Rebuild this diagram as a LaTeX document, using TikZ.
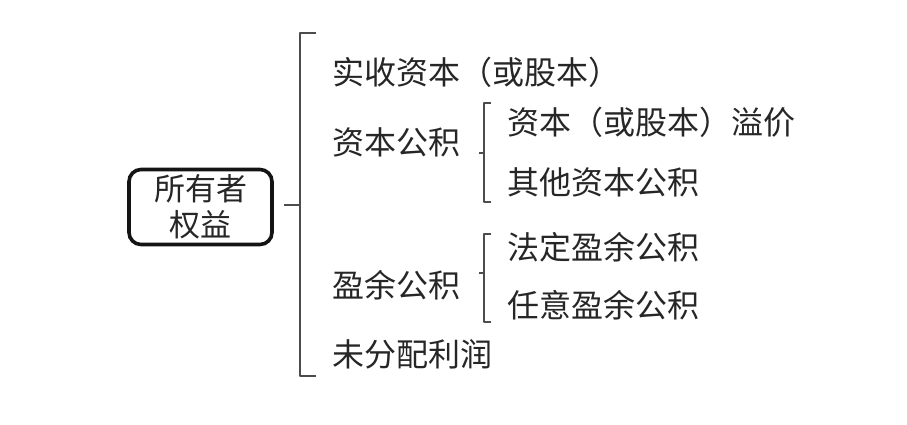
\documentclass[tikz,border=0pt]{standalone}
\usepackage{fontspec}
\newfontfamily\cjk{Noto Sans CJK SC}
\begin{document}
\begin{tikzpicture}[x=1pt,y=-1pt,
  lbl/.style={anchor=west,inner sep=0pt,font=\cjk\fontsize{32}{36}\selectfont,text=black!85},
  rootbox/.style={draw=black!92,line width=3.6pt,rounded corners=12pt,minimum width=143pt,minimum height=75pt,align=center,inner sep=0pt,font=\cjk\fontsize{31}{36}\selectfont,text=black!85},
  brace/.style={draw=black!70,line width=1.3pt,line join=round}]
\useasboundingbox (0,0) rectangle (907,424);
\node[rootbox] (root) at (200.5,207) {所有者\\权益};
\node[lbl] (a) at (332,72) {实收资本（或股本）};
\node[lbl] (b) at (332,142) {资本公积};
\node[lbl] (c) at (332,285) {盈余公积};
\node[lbl] (d) at (332,354) {未分配利润};
\node[lbl] (b1) at (507,122) {资本（或股本）溢价};
\node[lbl] (b2) at (507,182) {其他资本公积};
\node[lbl] (c1) at (507,247) {法定盈余公积};
\node[lbl] (c2) at (507,305) {任意盈余公积};
% big brace
\coordinate (BT) at (300,33);
\coordinate (BB) at (300,376);
\coordinate (BM) at (300,205);
\draw[brace] (316,33) -- (BT) -- (BB) -- (316,376);
\draw[brace] (root.east |- BM) ++(10,0) -- (BM);
% small brace 1
\draw[brace] (491,103) -- (484,103) -- (484,202) -- (491,202);
\draw[brace] (479,153) -- (484,153);
% small brace 2
\draw[brace] (491,234) -- (484,234) -- (484,322) -- (491,322);
\draw[brace] (479,273) -- (484,273);
\end{tikzpicture}
\end{document}
